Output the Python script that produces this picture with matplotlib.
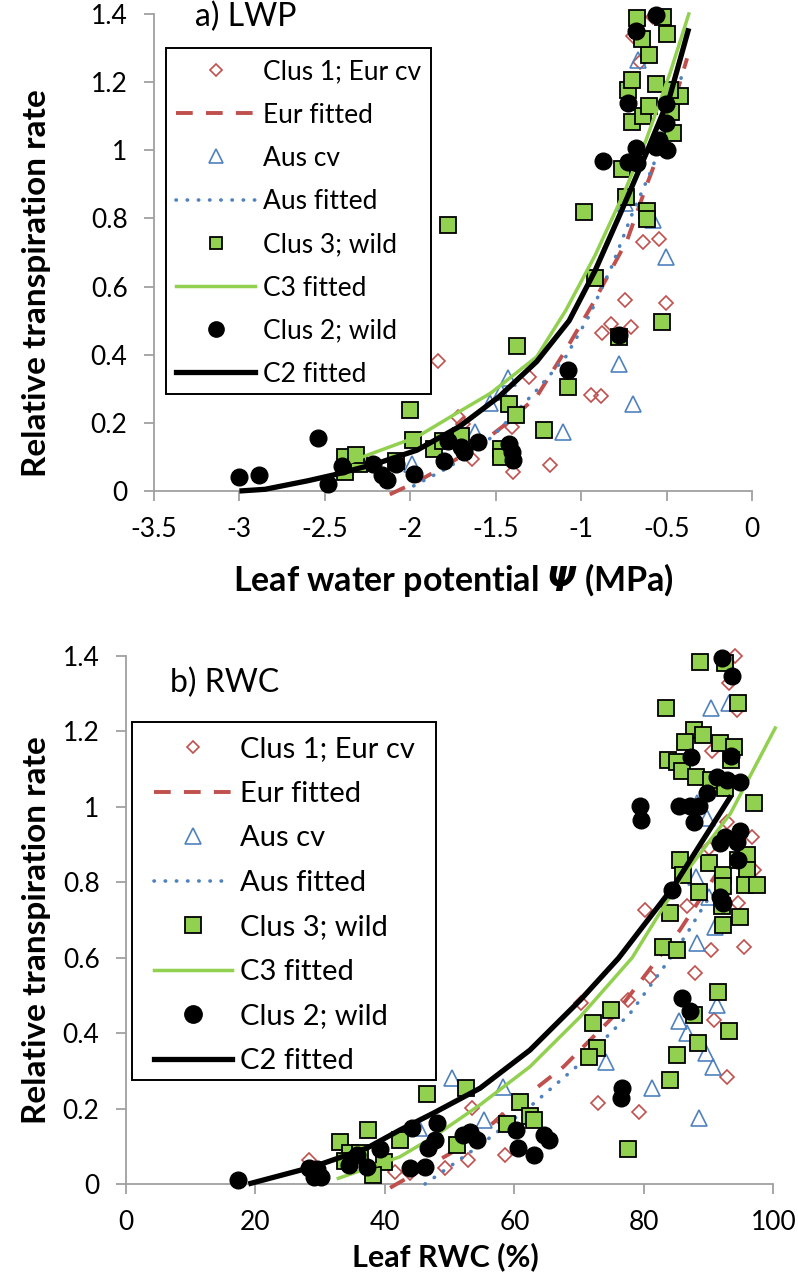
import matplotlib
matplotlib.use("Agg")
import matplotlib.pyplot as plt
from matplotlib.lines import Line2D
from matplotlib.patches import Rectangle

plt.rcParams['font.family'] = ['Lato', 'DejaVu Sans']

RED = '#C0504D'
BLUE = '#4F81BD'
GREEN = '#92D050'
AXGRAY = '#A0A0A0'

# ---------------- a) leaf water potential (MPa) ----------------
lwp_eur_x = [-1.839, -1.720, -1.690, -1.640, -1.407, -1.398, -1.303, -1.183, -0.945, -0.885,
             -0.876, -0.826, -0.706, -0.744, -0.504, -0.640, -0.543, -0.656, -0.697, -0.580]
lwp_eur_y = [0.381, 0.217, 0.198, 0.095, 0.188, 0.056, 0.336, 0.075, 0.283, 0.279,
             0.465, 0.489, 0.481, 0.561, 0.551, 0.730, 0.740, 1.260, 1.334, 1.390]

lwp_aus_x = [-1.988, -1.622, -1.534, -1.470, -1.427, -1.105, -0.781, -0.697, -0.506, -0.578,
             -0.744, -0.666]
lwp_aus_y = [0.080, 0.174, 0.257, 0.290, 0.331, 0.174, 0.374, 0.256, 0.688, 0.795,
             0.844, 1.265]

lwp_c3_x = [-2.382, -2.382, -2.301, -2.316, -2.084, -2.003, -1.982, -1.863, -1.809, -1.705,
            -1.467, -1.467, -1.422, -1.383, -1.377, -1.219, -1.079, -0.781, -0.527, -0.920,
            -0.617, -0.617, -1.781, -0.982, -0.740, -0.760, -0.461, -0.477, -0.701, -0.640,
            -0.602, -0.422, -0.481, -0.725, -0.563, -0.701, -0.602, -0.643, -0.500, -0.672,
            -0.523]
lwp_c3_y = [0.100, 0.056, 0.078, 0.105, 0.087, 0.239, 0.149, 0.124, 0.147, 0.160,
            0.124, 0.100, 0.256, 0.222, 0.427, 0.180, 0.305, 0.452, 0.496, 0.624,
            0.823, 0.797, 0.781, 0.820, 0.864, 0.945, 1.050, 1.113, 1.084, 1.101,
            1.131, 1.160, 1.177, 1.177, 1.195, 1.206, 1.280, 1.327, 1.340, 1.387,
            1.390]

lwp_c2_x = [-3.002, -2.883, -2.540, -2.480, -2.400, -2.221, -2.168, -2.137, -2.084, -1.979,
            -1.801, -1.780, -1.705, -1.684, -1.601, -1.422, -1.407, -1.398, -1.079, -0.781,
            -0.871, -0.725, -0.676, -0.681, -0.563, -0.543, -0.496, -0.504, -0.504, -0.725,
            -0.681, -0.563]
lwp_c2_y = [0.041, 0.046, 0.155, 0.022, 0.072, 0.078, 0.047, 0.031, 0.078, 0.051,
            0.087, 0.146, 0.129, 0.114, 0.144, 0.139, 0.114, 0.090, 0.354, 0.457,
            0.970, 0.967, 0.964, 1.006, 1.011, 1.030, 1.001, 1.079, 1.136, 1.138,
            1.351, 1.397]

# fitted curves
lwp_eur_fit_x = [-2.12, -1.95, -1.77, -1.60, -1.46, -1.26, -1.09, -0.93, -0.73, -0.62, -0.54, -0.38]
lwp_eur_fit_y = [-0.01, 0.03, 0.081, 0.135, 0.189, 0.277, 0.414, 0.551, 0.737, 0.893, 1.00, 1.27]
lwp_aus_fit_x = [-1.98, -1.77, -1.52, -1.26, -1.09, -0.95, -0.82, -0.70, -0.58, -0.41]
lwp_aus_fit_y = [0.015, 0.071, 0.159, 0.296, 0.394, 0.517, 0.66, 0.815, 0.952, 1.22]
lwp_c3_fit_x = [-2.35, -2.28, -1.96, -1.73, -1.53, -1.26, -1.09, -0.92, -0.75, -0.62, -0.48, -0.37]
lwp_c3_fit_y = [0.085, 0.10, 0.159, 0.228, 0.287, 0.394, 0.53, 0.69, 0.874, 1.03, 1.226, 1.40]
lwp_c2_fit_x = [-3.0, -2.85, -2.6, -2.45, -2.2, -1.96, -1.71, -1.48, -1.26, -1.07, -0.92, -0.77, -0.62, -0.48, -0.37]
lwp_c2_fit_y = [0.0, 0.005, 0.03, 0.047, 0.08, 0.12, 0.19, 0.277, 0.38, 0.50, 0.645, 0.815, 0.99, 1.16, 1.358]

lwp_xticks = [-3.5, -3, -2.5, -2, -1.5, -1, -0.5, 0]
lwp_xticklabels = ['-3.5', '-3', '-2.5', '-2', '-1.5', '-1', '-0.5', '0']

# ---------------- b) leaf relative water content (%) ----------------
rwc_eur_x = [94.1, 93.2, 94.4, 90.5, 92.8, 96.7, 90.0, 97.0, 80.2, 86.7,
             94.6, 90.3, 95.4, 87.9, 90.8, 92.9, 81.0, 77.6, 70.3, 72.9,
             79.3, 58.1, 58.6, 28.2, 41.6, 43.9, 49.3, 52.9, 53.4]
rwc_eur_y = [1.399, 1.328, 1.257, 1.147, 0.961, 0.921, 0.890, 0.833, 0.727, 0.736,
             0.745, 0.621, 0.629, 0.559, 0.435, 0.285, 0.548, 0.488, 0.481, 0.216,
             0.192, 0.170, 0.077, 0.064, 0.033, 0.030, 0.042, 0.064, 0.201]

rwc_aus_x = [90.3, 93.2, 88.2, 89.8, 88.1, 90.0, 91.0, 88.2, 91.3, 85.5,
             86.7, 89.6, 90.7, 81.2, 74.2, 88.5, 58.3, 55.3, 50.3, 45.2]
rwc_aus_y = [1.262, 1.275, 1.010, 0.970, 0.815, 0.762, 0.682, 0.638, 0.475, 0.431,
             0.400, 0.347, 0.311, 0.254, 0.324, 0.174, 0.258, 0.170, 0.280, 0.148]

rwc_c3_x = [88.7, 92.6, 83.5, 94.6, 87.7, 89.2, 86.4, 91.8, 93.9, 83.8,
            85.1, 85.9, 88.0, 93.4, 90.3, 92.6, 97.0, 85.6, 86.1, 90.0,
            92.3, 94.6, 95.9, 95.9, 95.7, 97.5, 88.5, 92.3, 84.1, 92.1,
            94.9, 92.3, 83.0, 85.1, 91.4, 93.1, 87.7, 88.3, 85.1, 84.0,
            77.5, 74.9, 72.2, 72.7, 71.6, 60.8, 62.4, 63.0, 58.8, 46.5,
            52.6, 33.1, 37.4, 42.3, 34.6, 36.2, 33.8, 39.8, 38.2, 51.2]
rwc_c3_y = [1.385, 1.381, 1.262, 1.275, 1.204, 1.191, 1.173, 1.169, 1.160, 1.125,
            1.120, 1.094, 1.080, 1.125, 1.072, 1.050, 1.010, 0.859, 0.820, 0.851,
            0.820, 0.859, 0.873, 0.833, 0.793, 0.793, 0.775, 0.789, 0.718, 0.736,
            0.709, 0.687, 0.629, 0.621, 0.510, 0.407, 0.448, 0.375, 0.342, 0.276,
            0.092, 0.462, 0.428, 0.360, 0.338, 0.218, 0.179, 0.170, 0.159, 0.239,
            0.254, 0.112, 0.143, 0.117, 0.081, 0.081, 0.062, 0.059, 0.024, 0.103]

rwc_c2_x = [92.1, 93.6, 87.3, 93.4, 91.3, 92.8, 94.9, 89.8, 79.4, 79.6,
            85.4, 87.2, 88.5, 87.7, 94.9, 92.6, 94.4, 91.8, 94.6, 84.3,
            91.8, 92.3, 85.9, 87.2, 76.6, 76.5, 60.3, 60.6, 63.0, 64.5,
            65.3, 17.3, 28.3, 29.0, 30.2, 29.5, 34.4, 35.7, 37.2, 39.3,
            44.2, 43.9, 46.2, 46.7, 47.8, 48.0, 52.1, 53.2, 54.2]
rwc_c2_y = [1.394, 1.347, 1.131, 1.135, 1.080, 1.072, 1.067, 1.036, 1.003, 0.966,
            1.001, 1.001, 1.001, 0.961, 0.935, 0.921, 0.908, 0.904, 0.859, 0.780,
            0.762, 0.745, 0.494, 0.459, 0.254, 0.229, 0.143, 0.095, 0.077, 0.130,
            0.117, 0.011, 0.042, 0.019, 0.019, 0.040, 0.050, 0.077, 0.046, 0.092,
            0.148, 0.042, 0.046, 0.095, 0.117, 0.161, 0.130, 0.139, 0.117]

rwc_eur_fit_x = [40.8, 50.1, 54.7, 62.4, 67.6, 75.3, 82.5, 85.6, 92.3]
rwc_eur_fit_y = [-0.01, 0.081, 0.134, 0.241, 0.311, 0.444, 0.605, 0.674, 0.851]
rwc_aus_fit_x = [46.2, 54.7, 62.4, 70.2, 77.9, 84.1, 86.7, 89.2, 90.5]
rwc_aus_fit_y = [0.0, 0.103, 0.205, 0.320, 0.453, 0.599, 0.665, 0.736, 0.77]
rwc_c3_fit_x = [32.8, 42.3, 47.5, 54.7, 62.4, 70.2, 78.2, 85.6, 93.4, 100.3]
rwc_c3_fit_y = [0.015, 0.072, 0.125, 0.21, 0.311, 0.444, 0.60, 0.806, 0.983, 1.209]
rwc_c2_fit_x = [18.9, 29.0, 37.2, 42.3, 47.5, 54.7, 62.4, 70.2, 76.1, 84.6, 93.5]
rwc_c2_fit_y = [0.0, 0.046, 0.095, 0.143, 0.188, 0.254, 0.355, 0.488, 0.599, 0.789, 1.03]

rwc_xticks = [0, 20, 40, 60, 80, 100]
rwc_xticklabels = ['0', '20', '40', '60', '80', '100']

yticks = [0, 0.2, 0.4, 0.6, 0.8, 1.0, 1.2, 1.4]
yticklabels = ['0', '0.2', '0.4', '0.6', '0.8', '1', '1.2', '1.4']

labels = ['Clus 1; Eur cv', 'Eur fitted', 'Aus cv', 'Aus fitted',
          'Clus 3; wild', 'C3 fitted', 'Clus 2; wild', 'C2 fitted']

W, H = 798, 1284

EUR_DASH = (4.3, 3.4)
AUS_DOT = (0, (0.1, 3.0))


def fx(px):
    return px / W


def fy(py):
    return 1 - py / H


def style_axes(ax, xlim, xticks, xticklabels):
    ax.set_xlim(xlim)
    ax.set_ylim(0, 1.4)
    ax.set_xticks(xticks)
    ax.set_xticklabels(xticklabels)
    ax.set_yticks(yticks)
    ax.set_yticklabels(yticklabels)
    for s in ['top', 'right']:
        ax.spines[s].set_visible(False)
    for s in ['left', 'bottom']:
        ax.spines[s].set_color(AXGRAY)
        ax.spines[s].set_linewidth(1.3)
    ax.tick_params(direction='out', length=7, width=1.3, color=AXGRAY,
                   labelsize=19, labelcolor='black')
    ax.tick_params(axis='x', pad=12)
    ax.tick_params(axis='y', pad=12)
    ax.patch.set_alpha(0)


def draw_panel(ax, eur, aus, c3, c2, eur_fit, aus_fit, c3_fit, c2_fit):
    ax.plot(eur[0], eur[1], ls='none', marker='D', ms=7.5, mfc='none', mec=RED, mew=1.2, clip_on=False, zorder=3)
    ax.plot(eur_fit[0], eur_fit[1], color=RED, lw=2.8, dashes=EUR_DASH, clip_on=False, zorder=4)
    ax.plot(aus[0], aus[1], ls='none', marker='^', ms=11, mfc='none', mec=BLUE, mew=1.2, clip_on=False, zorder=5)
    ax.plot(aus_fit[0], aus_fit[1], color=BLUE, lw=2.6, ls=AUS_DOT, dash_capstyle='round', clip_on=False, zorder=6)
    ax.plot(c3[0], c3[1], ls='none', marker='s', ms=11, mfc=GREEN, mec='black', mew=1.3, clip_on=False, zorder=7)
    ax.plot(c3_fit[0], c3_fit[1], color=GREEN, lw=2.5, clip_on=False, zorder=8)
    ax.plot(c2[0], c2[1], ls='none', marker='o', ms=12, mfc='black', mec='black', clip_on=False, zorder=9)
    ax.plot(c2_fit[0], c2_fit[1], color='black', lw=3.8, solid_capstyle='butt', clip_on=False, zorder=10)


def draw_legend(fig, box, hx0, hx1, tx, row0, pitch, fs, ms):
    # box outline in pixel coordinates (x0, y0, x1, y1), y downwards
    fig.add_artist(Rectangle((fx(box[0]), fy(box[3])), (box[2] - box[0]) / W, (box[3] - box[1]) / H,
                             transform=fig.transFigure, facecolor='white', edgecolor='black',
                             lw=1.4, zorder=20))
    cap = 0.36 * fs * 100 / 72
    hx = [fx(hx0), fx(hx1)]
    hc = [fx((hx0 + hx1) / 2)]
    for i, lab in enumerate(labels):
        y = row0 + pitch * i
        yy = [fy(y), fy(y)]
        if i == 0:
            h = Line2D(hc, yy[:1], ls='none', marker='D', ms=ms[0], mfc='none', mec=RED, mew=1.2)
        elif i == 1:
            h = Line2D(hx, yy, color=RED, lw=2.8, dashes=EUR_DASH)
        elif i == 2:
            h = Line2D(hc, yy[:1], ls='none', marker='^', ms=ms[1], mfc='none', mec=BLUE, mew=1.2)
        elif i == 3:
            h = Line2D(hx, yy, color=BLUE, lw=2.6, ls=AUS_DOT, dash_capstyle='round')
        elif i == 4:
            h = Line2D(hc, yy[:1], ls='none', marker='s', ms=ms[2], mfc=GREEN, mec='black', mew=1.3)
        elif i == 5:
            h = Line2D(hx, yy, color=GREEN, lw=2.5)
        elif i == 6:
            h = Line2D(hc, yy[:1], ls='none', marker='o', ms=ms[3], mfc='black', mec='black')
        else:
            h = Line2D(hx, yy, color='black', lw=3.8)
        h.set_transform(fig.transFigure)
        h.set_zorder(21)
        fig.add_artist(h)
        fig.text(fx(tx), fy(y + cap), lab, fontsize=fs, va='baseline', ha='left', zorder=22)


fig = plt.figure(figsize=(W / 100, H / 100), dpi=100)

# panel a
ax1 = fig.add_axes([fx(154), fy(491), (752 - 154) / W, (491 - 14) / H])
style_axes(ax1, (-3.5, 0), lwp_xticks, lwp_xticklabels)
draw_panel(ax1, (lwp_eur_x, lwp_eur_y), (lwp_aus_x, lwp_aus_y), (lwp_c3_x, lwp_c3_y), (lwp_c2_x, lwp_c2_y),
           (lwp_eur_fit_x, lwp_eur_fit_y), (lwp_aus_fit_x, lwp_aus_fit_y),
           (lwp_c3_fit_x, lwp_c3_fit_y), (lwp_c2_fit_x, lwp_c2_fit_y))
ax1.text(-3.26, 1.391, 'a) LWP', fontsize=23, ha='left', va='center')
draw_legend(fig, (166, 48, 431, 394), 176, 255, 263, 70, 43.2, 19, (6, 10, 8.5, 11))

fig.text(fx(37), fy(283), 'Relative transpiration rate', rotation=90, fontsize=24,
         fontweight='bold', ha='center', va='center')
fig.text(fx(453), fy(580), 'Leaf water potential $\\mathbfit{\\Psi}$ (MPa)', fontsize=24.5,
         fontweight='bold', ha='center', va='center')

# panel b
ax2 = fig.add_axes([fx(126), fy(1184), (773.3 - 126) / W, (1184 - 656) / H])
style_axes(ax2, (0, 100), rwc_xticks, rwc_xticklabels)
draw_panel(ax2, (rwc_eur_x, rwc_eur_y), (rwc_aus_x, rwc_aus_y), (rwc_c3_x, rwc_c3_y), (rwc_c2_x, rwc_c2_y),
           (rwc_eur_fit_x, rwc_eur_fit_y), (rwc_aus_fit_x, rwc_aus_fit_y),
           (rwc_c3_fit_x, rwc_c3_fit_y), (rwc_c2_fit_x, rwc_c2_fit_y))
ax2.text(6.8, 1.329, 'b) RWC', fontsize=23, ha='left', va='center')
draw_legend(fig, (132, 722, 436, 1080), 154, 232, 240, 747, 44.5, 21, (6.5, 11.5, 11, 12.5))

fig.text(fx(37), fy(930), 'Relative transpiration rate', rotation=90, fontsize=24,
         fontweight='bold', ha='center', va='center')
fig.text(fx(445), fy(1257), 'Leaf RWC (%)', fontsize=22,
         fontweight='bold', ha='center', va='center')

fig.savefig('out.png', dpi=100)
